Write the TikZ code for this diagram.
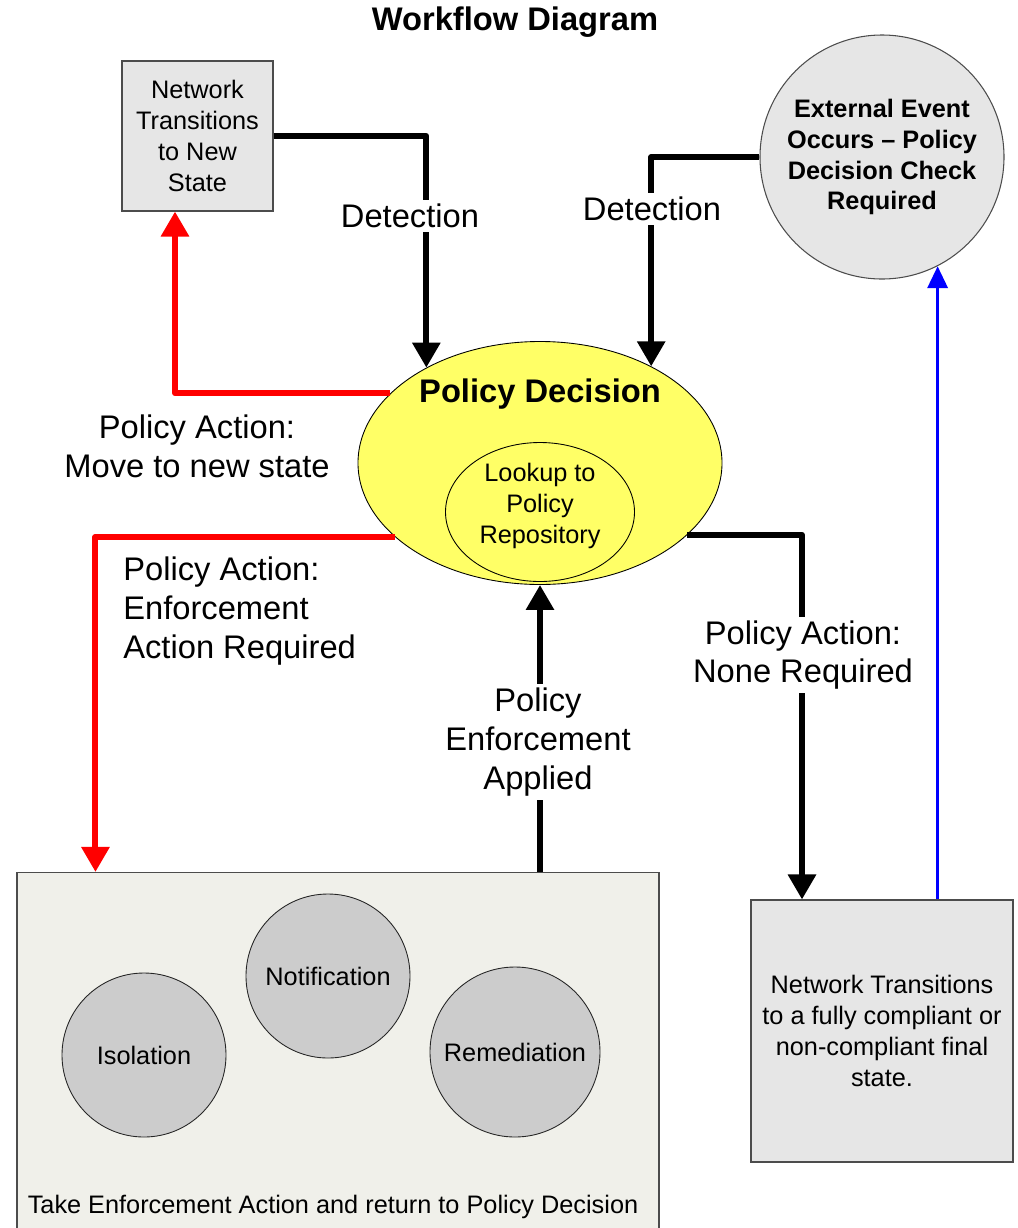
\documentclass[tikz,border=0pt]{standalone}
\usepackage{fontspec}
\setmainfont{Liberation Sans}
\usetikzlibrary{shapes.geometric,arrows.meta}
\definecolor{boxgray}{HTML}{E6E6E6}
\definecolor{discgray}{HTML}{CCCCCC}
\definecolor{enfgray}{HTML}{F0F0EA}
\definecolor{pdyellow}{HTML}{FFFF66}
\newcommand\smalltxt{\fontsize{14.4}{17.6}\selectfont}
\newcommand\bigtxt{\fontsize{18.6}{22.1}\selectfont}
\newcommand\titletxt{\fontsize{18.6}{22}\selectfont}

\begin{document}
\begin{tikzpicture}[x=0.2mm,y=-0.2mm,
    every node/.style={inner sep=0pt},
    box/.style={draw=black!70,fill=boxgray,line width=0.6pt,align=center,font=\smalltxt},
    disc/.style={circle,draw=black!85,fill=discgray,line width=0.5pt,minimum size=32.8mm,font=\smalltxt},
    lbl/.style={fill=white,align=center,font=\bigtxt,inner sep=2pt},
    flow/.style={line width=3.4pt,line join=round,-{Triangle[length=5mm,width=5.4mm]}}]
  \useasboundingbox (0,0) rectangle (1018,1228);
  \clip (0,0) rectangle (1018,1228);

  \node[font=\titletxt\bfseries] (title) at (515,22) {Workflow Diagram};

  % states
  \node[box,minimum width=30.2mm,minimum height=30mm] (net) at (197.5,136) {Network\\Transitions\\to New\\State};
  \node[box,circle,minimum size=48.8mm,font=\smalltxt\bfseries] (ext) at (882,157) {External Event\\Occurs -- Policy\\Decision Check\\Required};
  \node[ellipse,draw,fill=pdyellow,line width=0.5pt,minimum width=72.8mm,minimum height=48.6mm] (pd) at (540,463) {};
  \node[font=\bigtxt\bfseries] (pdtitle) at (540,394) {Policy Decision};
  \node[ellipse,draw,line width=0.5pt,minimum width=37.8mm,minimum height=27.8mm] (repo) at (540,512) {};
  \node[align=center,font=\smalltxt] (repotxt) at (540,506) {Lookup to\\Policy\\Repository};
  \node[box,fill=enfgray,minimum width=128.4mm,minimum height=73.4mm] (enf) at (338,1056) {};
  \node[font=\smalltxt] (enftxt) at (333,1207) {Take Enforcement Action and return to Policy Decision};
  \node[disc] (iso) at (144,1055) {Isolation};
  \node[disc] (notif) at (328,976) {Notification};
  \node[disc,minimum size=34mm] (remed) at (515,1052) {Remediation};
  \node[box,minimum size=52.4mm] (fin) at (882,1031) {Network Transitions\\to a fully compliant or\\non-compliant final\\state.};

  % connectors
  \draw[flow] (net.east) -| (pd.140);
  \draw[flow] (ext.west) -| (pd.41);
  \draw[flow,red] (pd.155) -| ([xshift=-4.5mm]net.south);
  \draw[flow,red] (pd.207) -| ([xshift=15.8mm]enf.north west);
  \draw[flow] (pd.south |- enf.north) -- (pd.south);
  \draw[flow] (pd.334) -| ([xshift=-16mm]fin.north);
  \draw[flow,blue,line width=2pt,-{Triangle[length=4.4mm,width=4mm]}] (ext.297 |- fin.north) -- (ext.297);

  % labels
  \node[lbl] (det1) at (410,216) {Detection};
  \node[lbl] (det2) at (652,209) {Detection};
  \node[font=\bigtxt,align=center] (moveact) at (197,446) {Policy Action:\\Move to new state};
  \node[font=\bigtxt,align=left,anchor=west] (enfact) at (123,611) {Policy Action:\\Enforcement\\Action Required};
  \node[lbl] (applied) at (538,742) {Policy\\Enforcement\\Applied};
  \node[lbl] (noact) at (803,655) {Policy Action:\\None Required};
\end{tikzpicture}
\end{document}
